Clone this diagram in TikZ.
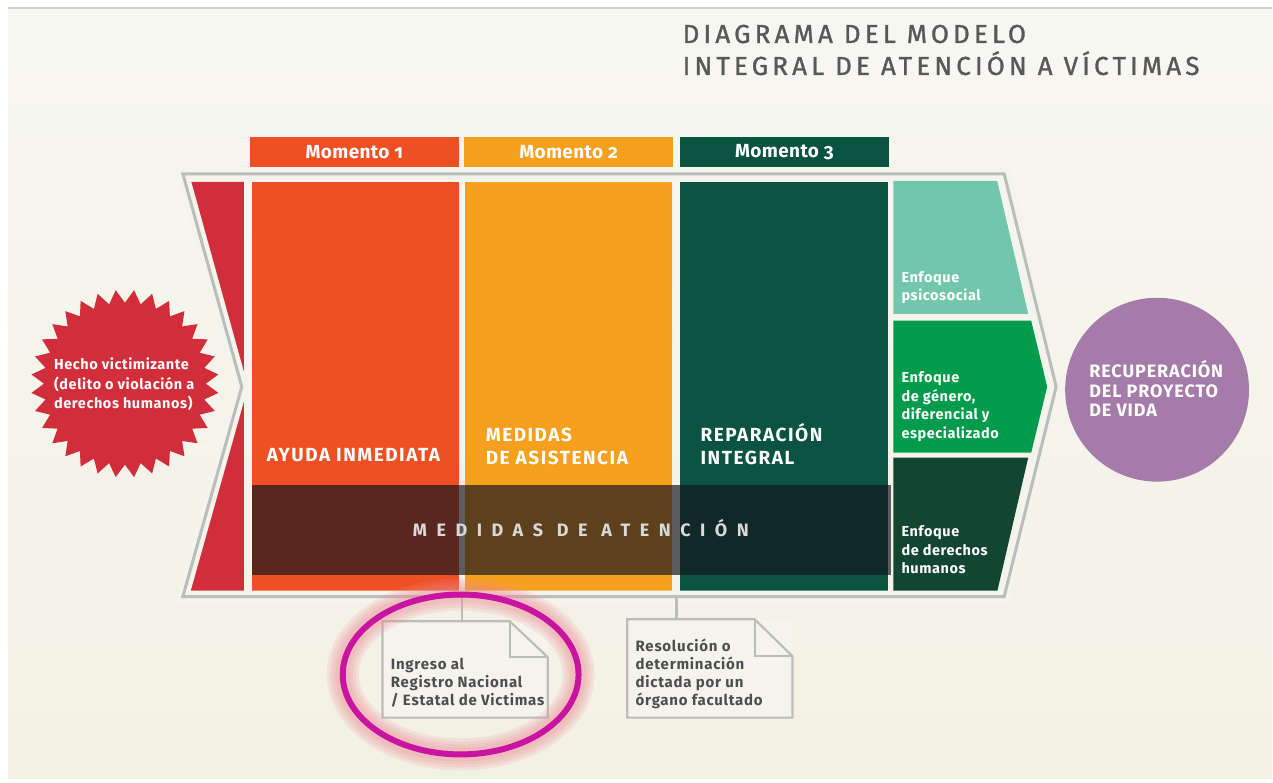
\documentclass[tikz,border=0pt]{standalone}
\usepackage{fontspec}
\setmainfont{Fira Sans}
\newfontfamily\numvieja{Fira Sans}[Numbers=OldStyle]
\usetikzlibrary{shapes.geometric, positioning, calc}

\definecolor{fondoarriba}{RGB}{247,247,242}
\definecolor{fondoabajo}{RGB}{243,241,227}
\definecolor{fondo}{RGB}{245,244,236}
\definecolor{marco}{RGB}{188,188,186}
\definecolor{rojo}{RGB}{209,45,58}
\definecolor{naranja}{RGB}{239,80,35}
\definecolor{amarillo}{RGB}{247,160,30}
\definecolor{verdeosc}{RGB}{10,83,64}
\definecolor{menta}{RGB}{114,198,172}
\definecolor{verde}{RGB}{0,155,75}
\definecolor{verdenoche}{RGB}{18,70,50}
\definecolor{lila}{RGB}{165,123,170}
\definecolor{grisfuerte}{RGB}{88,88,88}
\definecolor{grisnota}{RGB}{78,78,78}
\definecolor{magenta}{RGB}{200,20,160}
\definecolor{resplandor}{RGB}{236,140,150}
\definecolor{sombra}{RGB}{20,20,28}

\tikzset{
  titulo/.style={anchor=base west, inner sep=0, text=grisfuerte,
    font=\fontsize{26}{30}\selectfont\addfontfeature{LetterSpace=16,FakeBold=1.2}},
  tab/.style={minimum width=209, minimum height=30, inner sep=0, text=white,
    font=\fontsize{19}{21}\bfseries\numvieja\addfontfeature{LetterSpace=2}},
  collabel/.style={anchor=base west, inner sep=0, align=left, text=white,
    font=\fontsize{19}{23}\bfseries\addfontfeature{LetterSpace=8}},
  enfoque/.style={anchor=base west, inner sep=0, align=left, text=white,
    font=\fontsize{14.5}{18.5}\bfseries\addfontfeature{LetterSpace=4}},
  nota/.style={minimum width=165, minimum height=96, inner sep=0, fill=fondo},
  notaborde/.style={draw=marco, line width=2.2, line join=miter},
  notatxt/.style={anchor=base west, inner sep=0, align=left, text=grisnota,
    font=\fontsize{15}{18}\bfseries\addfontfeature{LetterSpace=5}},
  conector/.style={draw=marco, line width=2.2}
}

\begin{document}
\begin{tikzpicture}[x=1pt,y=-1pt]
% fondo
\fill[white] (0,0) rectangle (1273,783);
\shade[top color=fondoarriba, bottom color=fondoabajo] (8,8) rectangle (1273,779);
\draw[marco!70, line width=2] (8,8) -- (1273,8);

% titulo
\node[titulo] (tit1) at (683,43) {DIAGRAMA DEL MODELO};
\node[titulo] (tit2) at (683,75) {INTEGRAL DE ATENCIÓN A VÍCTIMAS};

% momentos
\node[tab, fill=naranja] (mom1) at (354.5,152) {Momento 1};
\node[tab, fill=amarillo] (mom2) at (569,152) {Momento 2};
\node[tab, fill=verdeosc] (mom3) at (785,152) {Momento 3};

% columnas
\fill[rojo] (185,182) -- (244,182) -- (244,592) -- (185,592) -- (242,387) -- cycle;
\fill[naranja] (252,182) rectangle (459,592);
\fill[amarillo] (465,182) rectangle (673,592);
\fill[verdeosc] (681,182) rectangle (889,592);

% enfoques
\fill[menta] (894,181) -- (998,181) -- (1029,314) -- (894,314) -- cycle;
\fill[verde] (894,321) -- (1032,321) -- (1048,387) -- (1032,453) -- (894,453) -- cycle;
\fill[verdenoche] (894,458) -- (1029,458) -- (998,592) -- (894,592) -- cycle;

% marco
\draw[fondo, line width=12, line join=miter] (183,174) -- (1005,174) -- (1057,387) -- (1005,597) -- (183,597) -- (242,387) -- cycle;
\draw[marco, line width=3, line join=miter] (183,174) -- (1005,174) -- (1057,387) -- (1005,597) -- (183,597) -- (242,387) -- cycle;

% banda
\fill[sombra, opacity=0.68] (252,485) rectangle (892,575);
\node[anchor=base west, inner sep=0, text=white!85!black,
  font=\fontsize{18}{20}\bfseries\addfontfeature{LetterSpace=53}] (medat) at (413,537) {MEDIDAS DE ATENCIÓN};

\node[collabel] (ayuda) at (267,462) {AYUDA INMEDIATA};
\node[collabel] (asist) at (486,465) {MEDIDAS\\DE ASISTENCIA};
\node[collabel] (repar) at (701,465) {REPARACIÓN\\INTEGRAL};

\node[enfoque] (psico) at (902,301) {Enfoque\\psicosocial};
\node[enfoque] (genero) at (902,438.5) {Enfoque\\de género,\\diferencial y\\especializado};
\node[enfoque] (ddhh) at (902,574) {Enfoque\\de derechos\\humanos};

% hecho victimizante
\coordinate (estrella) at (125,384);
\fill[rojo] ($(estrella)+(90:81)$)
  foreach \k in {1,...,63} { -- ($(estrella)+({90+\k*5.625}:{ifthenelse(isodd(\k),94,81)})$) } -- cycle;
\node[anchor=base west, inner sep=0, align=left, text=white,
  font=\fontsize{14.5}{19.5}\bfseries\addfontfeature{LetterSpace=4}] (hecho) at (54,409)
  {Hecho victimizante\\(delito o violación a\\derechos humanos)};

% recuperacion
\node[circle, fill=lila, minimum size=184, inner sep=0] (recup) at (1158,390) {};
\node[anchor=base west, inner sep=0, align=left, text=white,
  font=\fontsize{18}{19.5}\bfseries\addfontfeature{LetterSpace=5}] (recuptxt) at (1090,417)
  {RECUPERACIÓN\\DEL PROYECTO\\DE VIDA};

% notas
\coordinate (gap1) at (462,597);
\coordinate (gap2) at (677,597);
\node[nota] (regnote) at (465.5,670) {};
\node[nota, minimum height=98] (resnote) at (710.5,669) {};
\draw[conector] (gap1) -- (gap1 |- regnote.north);
\draw[conector] (gap2) -- (gap2 |- resnote.north);
\draw[notaborde] (regnote.south west) -- (regnote.north west) -- ([xshift=-38]regnote.north east)
  -- ([yshift=-36]regnote.north east) -- (regnote.south east) -- cycle;
\draw[notaborde] ([xshift=-38]regnote.north east) |- ([yshift=-36]regnote.north east);
\draw[notaborde] (resnote.south west) -- (resnote.north west) -- ([xshift=-38]resnote.north east)
  -- ([yshift=-37]resnote.north east) -- (resnote.south east) -- cycle;
\draw[notaborde] ([xshift=-38]resnote.north east) |- ([yshift=-37]resnote.north east);
\node[notatxt] (regtxt) at (391,706) {Ingreso al\\Registro Nacional\\/ Estatal de Victimas};
\node[notatxt] (restxt) at (636,706) {Resolución o\\determinación\\dictada por un\\órgano facultado};

% resaltado
\foreach \w in {32,26,20,14}
  \draw[resplandor, line width=\w, opacity=0.16] (461,675) ellipse [x radius=118, y radius=80];
\draw[magenta, line width=6] (461,675) ellipse [x radius=118, y radius=80];
\end{tikzpicture}
\end{document}
